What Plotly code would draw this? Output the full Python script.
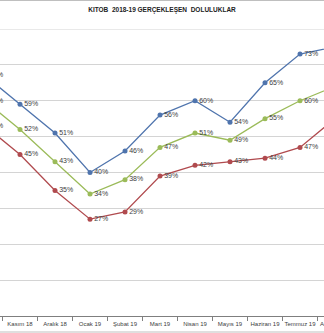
import plotly.graph_objects as go

categories = ["Ekim 18", "Kasım 18", "Aralık 18", "Ocak 19", "Şubat 19", "Mart 19",
              "Nisan 19", "Mayıs 19", "Haziran 19", "Temmuz 19", "Ağustos 19"]
series_blue = [67, 59, 51, 40, 46, 56, 60, 54, 65, 73, 75]
series_green = [60, 52, 43, 34, 38, 47, 51, 49, 55, 60, 64]
series_red = [53, 45, 35, 27, 29, 39, 42, 43, 44, 47, 55]
title_text = "KITOB  2018-19 GERÇEKLEŞEN  DOLULUKLAR"

FONT = "Liberation Sans, Arial, sans-serif"
X_RANGE = [15 / 35, 339 / 35]

fig = go.Figure()
for vals, color in [(series_blue, "#4F74AD"), (series_green, "#9BBB59"), (series_red, "#B04A4E")]:
    fig.add_trace(go.Scatter(
        x=categories, y=vals, mode="lines+markers+text",
        line=dict(color=color, width=1.3),
        marker=dict(color=color, size=5, symbol="circle"),
        text=[f"{v}%" for v in vals], textposition="middle right",
        textfont=dict(size=7, color="#404040", family=FONT),
        cliponaxis=True, showlegend=False,
    ))

# the last category sits just beyond the visible plot area; its tick label is partly visible
last_idx = len(categories) - 1
last_paper_x = (last_idx - X_RANGE[0]) / (X_RANGE[1] - X_RANGE[0])

fig.update_layout(
    width=324, height=333,
    margin=dict(l=0, r=0, t=29, b=17),
    paper_bgcolor="white", plot_bgcolor="white",
    title=dict(text=f"<b>{title_text}</b>", x=0.5, xanchor="center",
               y=1 - 10 / 333, yanchor="middle", yref="container",
               font=dict(size=6.5, color="#222222", family=FONT)),
    xaxis=dict(type="category", categoryorder="array", categoryarray=categories,
               range=X_RANGE, showgrid=False, showline=True,
               linecolor="#7F7F7F", linewidth=1, ticks="outside", tickson="boundaries",
               ticklen=4, tickcolor="#7F7F7F", tickangle=0, ticklabelstandoff=2,
               tickfont=dict(size=6, color="#404040", family=FONT)),
    yaxis=dict(range=[0, 80], dtick=10, showticklabels=False, showgrid=True,
               gridcolor="#D4D4D4", gridwidth=1, zeroline=False, showline=False),
    shapes=[
        dict(type="line", xref="paper", yref="paper", x0=0, x1=1,
             y0=1 + 28.5 / 287, y1=1 + 28.5 / 287, line=dict(color="#BFBFBF", width=1)),
        dict(type="line", xref="paper", yref="paper", x0=0, x1=1,
             y0=-16 / 287, y1=-16 / 287, line=dict(color="#BFBFBF", width=1)),
        dict(type="line", xref="paper", yref="y", x0=0, x1=1, y0=80, y1=80,
             line=dict(color="#D4D4D4", width=1)),
    ],
    annotations=[
        dict(x=last_paper_x, xref="paper", y=0, yref="paper", yanchor="top", yshift=-3,
             xanchor="center", text=categories[-1], showarrow=False,
             font=dict(size=6, color="#404040", family=FONT)),
    ],
)

fig.write_html("out.html")
